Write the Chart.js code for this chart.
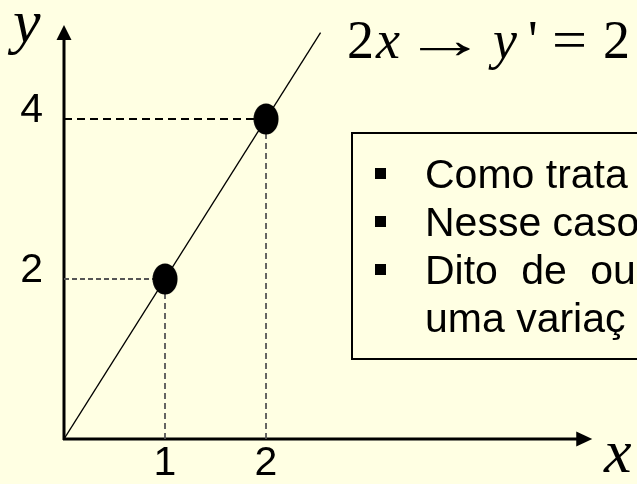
<!DOCTYPE html>
<html>
<head>
<meta charset="utf-8">
<script src="https://cdn.jsdelivr.net/npm/chart.js@4.4.1/dist/chart.umd.min.js"></script>
<style>
  html, body { margin: 0; padding: 0; background: #FFFFE3; overflow: hidden; }
  canvas { display: block; }
</style>
</head>
<body>
<canvas id="grafico" width="637" height="484"></canvas>
<script>
// reta y = 2x e os pontos marcados sobre ela
const retaX = [0, 2.54];
const retaY = [0, 5.08];
const pontosX = [1, 2];
const pontosY = [2, 4];
const ticksX = [1, 2];
const ticksY = [2, 4];
const fimEixoX = 5.23;   // ponta da seta do eixo x
const fimEixoY = 5.175;  // ponta da seta do eixo y
const limiteX = 5.673;
const limiteY = 5.4875;
const linhasTexto = ['Como trata', 'Nesse caso', 'Dito de ou', 'uma variaç'];

const SANS = "'Liberation Sans', Arial, sans-serif";
const SERIF = "'Liberation Serif', 'Times New Roman', serif";

// bolinha um pouco ovalada, como no desenho original
function criarBolinha() {
    const c = document.createElement('canvas');
    c.width = 26;
    c.height = 32;
    const g = c.getContext('2d');
    g.fillStyle = '#000';
    g.beginPath();
    g.ellipse(13, 16, 12.5, 15.5, 0, 0, Math.PI * 2);
    g.fill();
    return c;
}

// linhas tracejadas de cada ponto até os eixos
const guias = [];
pontosX.forEach((px, i) => {
    const py = pontosY[i];
    const destaque = i === pontosX.length - 1;
    guias.push({
        data: [{ x: 0, y: py }, { x: px, y: py }],
        showLine: true,
        borderColor: destaque ? '#000' : '#555',
        borderWidth: destaque ? 2.2 : 1.8,
        borderDash: destaque ? [8, 5] : [5, 3],
        pointRadius: 0,
        order: 3
    });
    guias.push({
        data: [{ x: px, y: 0 }, { x: px, y: py }],
        showLine: true,
        borderColor: '#555',
        borderWidth: 1.8,
        borderDash: [6, 4],
        pointRadius: 0,
        order: 3
    });
});

const desenhoExtra = {
    id: 'desenhoExtra',
    beforeDatasetsDraw(chart) {
        const { ctx, scales: { x, y } } = chart;
        const x0 = x.getPixelForValue(0);
        const y0 = y.getPixelForValue(0);
        const xf = x.getPixelForValue(fimEixoX);
        const yf = y.getPixelForValue(fimEixoY);
        ctx.save();
        ctx.strokeStyle = '#000';
        ctx.fillStyle = '#000';
        ctx.lineWidth = 3;
        ctx.beginPath();
        ctx.moveTo(x0, y0 + 1);
        ctx.lineTo(x0, yf + 10);
        ctx.moveTo(x0 - 1, y0);
        ctx.lineTo(xf - 10, y0);
        ctx.stroke();
        // setas
        ctx.beginPath();
        ctx.moveTo(x0, yf);
        ctx.lineTo(x0 - 7.5, yf + 15);
        ctx.lineTo(x0 + 7.5, yf + 15);
        ctx.closePath();
        ctx.fill();
        ctx.beginPath();
        ctx.moveTo(xf, y0);
        ctx.lineTo(xf - 16, y0 - 7.5);
        ctx.lineTo(xf - 16, y0 + 7.5);
        ctx.closePath();
        ctx.fill();
        ctx.restore();
    },
    afterDraw(chart) {
        const ctx = chart.ctx;
        ctx.save();
        ctx.fillStyle = '#000';
        ctx.textAlign = 'left';
        ctx.textBaseline = 'alphabetic';

        // nomes dos eixos
        ctx.font = 'italic 62px ' + SERIF;
        ctx.fillText('y', 13, 42);
        ctx.fillText('x', 604, 472);

        // formula no topo
        const partes = [
            ['2', 347, false], ['x', 376, true], ['\u2192', 403, false],
            ['y', 493, true], ["'", 528, false], ['=', 552, false], ['2', 603, false]
        ];
        partes.forEach(([t, px, ital]) => {
            ctx.font = (ital ? 'italic ' : '') + '54px ' + SERIF;
            ctx.save();
            ctx.translate(px, 58);
            if (t === '\u2192') ctx.scale(1.55, 1);   // seta mais comprida
            if (t === '=') ctx.scale(1.15, 1);
            ctx.fillText(t, 0, 0);
            ctx.restore();
        });

        // caixa de texto
        ctx.strokeStyle = '#000';
        ctx.lineWidth = 2;
        ctx.strokeRect(352, 133, 400, 226);
        ctx.font = '41px ' + SANS;
        linhasTexto.forEach((linha, i) => {
            const base = 188 + i * 48;
            if (i < 3) {
                ctx.fillRect(375, base - 20, 11, 11);
            }
            // linha justificada no original, espacos mais largos
            ctx.wordSpacing = i === 2 ? '12px' : '0px';
            ctx.fillText(linha, 425, base);
        });
        ctx.restore();
    }
};

new Chart(document.getElementById('grafico'), {
    type: 'scatter',
    data: {
        datasets: [
            {
                data: pontosX.map((v, i) => ({ x: v, y: pontosY[i] })),
                pointStyle: criarBolinha(),
                pointRadius: 13,
                pointHoverRadius: 13,
                order: 1
            },
            {
                type: 'line',
                data: retaX.map((v, i) => ({ x: v, y: retaY[i] })),
                borderColor: '#000',
                borderWidth: 1.3,
                pointRadius: 0,
                order: 2
            },
            ...guias
        ]
    },
    plugins: [desenhoExtra],
    options: {
        responsive: false,
        animation: false,
        devicePixelRatio: 1,
        layout: { autoPadding: false, padding: { left: 20, top: 0, right: 0, bottom: 0 } },
        plugins: {
            legend: { display: false },
            tooltip: { enabled: false }
        },
        scales: {
            x: {
                type: 'linear',
                min: 0,
                max: limiteX,
                grid: { display: false, drawTicks: false },
                border: { display: false },
                ticks: {
                    color: '#000',
                    padding: 0,
                    maxRotation: 0,
                    autoSkip: false,
                    font: { family: SANS, size: 41 }
                },
                afterBuildTicks: s => { s.ticks = ticksX.map(v => ({ value: v })); },
                afterFit: s => { s.height = 45; s.paddingLeft = 0; s.paddingRight = 0; }
            },
            y: {
                type: 'linear',
                min: 0,
                max: limiteY,
                grid: { display: false, drawTicks: false },
                border: { display: false },
                ticks: {
                    color: '#000',
                    padding: 21,
                    labelOffset: -8,
                    autoSkip: false,
                    font: { family: SANS, size: 41 }
                },
                afterBuildTicks: s => { s.ticks = ticksY.map(v => ({ value: v })); },
                afterFit: s => { s.width = 44; s.paddingTop = 0; s.paddingBottom = 0; }
            }
        }
    }
});
</script>
</body>
</html>
